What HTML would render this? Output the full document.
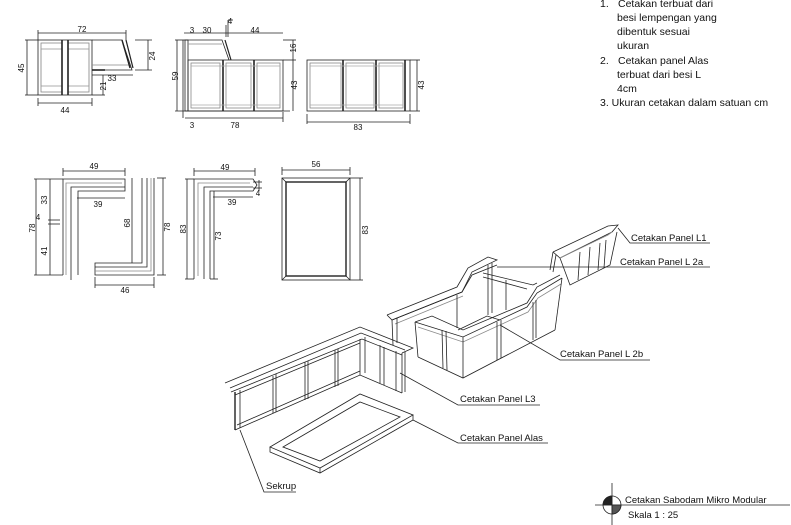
<!DOCTYPE html>
<html><head><meta charset="utf-8"><style>
html,body{margin:0;padding:0;background:#fff;}
svg{display:block;}
text{font-family:"Liberation Sans",sans-serif;fill:#111;}
</style></head><body>
<svg width="791" height="525" viewBox="0 0 791 525" xmlns="http://www.w3.org/2000/svg">
<g fill="none" stroke="#222" stroke-width="0.8">
<!-- View 1 -->
<rect x="38" y="40" width="54" height="55"/>
<rect x="41" y="43" width="21" height="49" stroke="#888"/>
<rect x="68" y="43" width="21" height="49" stroke="#888"/>
<rect x="41" y="49" width="21" height="37" stroke="#999"/>
<rect x="68" y="49" width="21" height="37" stroke="#999"/>
<line x1="62" y1="40" x2="62" y2="95" stroke-width="1.6"/>
<line x1="68" y1="40" x2="68" y2="95" stroke-width="1.6"/>
<polyline points="92,40 122,40 132,70 92,70"/>
<line x1="92" y1="65" x2="130" y2="65" stroke="#888"/>
<line x1="122" y1="40" x2="130" y2="68" stroke-width="1.4"/>
<line x1="126" y1="40" x2="133" y2="68" stroke-width="1.2"/>
<line x1="92" y1="70" x2="105" y2="70" stroke-width="1.6"/>
<line x1="38" y1="33" x2="126" y2="33"/><line x1="38" y1="30" x2="38" y2="40"/><line x1="126" y1="30" x2="126" y2="40"/>
<line x1="27" y1="40" x2="27" y2="95"/><line x1="25" y1="40" x2="38" y2="40"/><line x1="25" y1="95" x2="38" y2="95"/>
<line x1="38" y1="103" x2="92" y2="103"/><line x1="38" y1="98" x2="38" y2="106"/><line x1="92" y1="98" x2="92" y2="106"/>
<line x1="148" y1="40" x2="148" y2="70"/><line x1="135" y1="40" x2="152" y2="40"/><line x1="135" y1="70" x2="152" y2="70"/>
<line x1="92" y1="75" x2="133" y2="75"/><line x1="103" y1="75" x2="103" y2="95"/><line x1="92" y1="95" x2="105" y2="95"/>
<!-- View 2 -->
<rect x="185" y="40" width="3" height="71"/>
<line x1="183" y1="40" x2="183" y2="118"/>
<polyline points="188,40 222,40 229,60"/>
<line x1="188" y1="44" x2="222" y2="44" stroke="#888"/>
<line x1="225" y1="40" x2="231" y2="60" stroke-width="1.2"/>
<rect x="188" y="60" width="95" height="51"/>
<line x1="223" y1="60" x2="223" y2="111" stroke-width="1.6"/>
<line x1="254" y1="60" x2="254" y2="111" stroke-width="1.6"/>
<rect x="191" y="63" width="29" height="45" stroke="#888"/>
<rect x="226" y="63" width="25" height="45" stroke="#888"/>
<rect x="257" y="63" width="23" height="45" stroke="#888"/>
<line x1="191" y1="66" x2="280" y2="66" stroke="#aaa"/><line x1="191" y1="105" x2="280" y2="105" stroke="#aaa"/>
<line x1="184" y1="33" x2="283" y2="33"/><line x1="226" y1="25" x2="226" y2="37"/><line x1="228" y1="20" x2="228" y2="37"/><line x1="228" y1="20" x2="233" y2="20"/>
<line x1="177" y1="40" x2="177" y2="111"/><line x1="175" y1="40" x2="188" y2="40"/><line x1="175" y1="111" x2="290" y2="111"/>
<line x1="293" y1="40" x2="293" y2="111"/><line x1="283" y1="40" x2="296" y2="40"/><line x1="283" y1="60" x2="296" y2="60"/>
<line x1="185" y1="118" x2="283" y2="118"/><line x1="283" y1="112" x2="283" y2="122"/>
<!-- View 3 -->
<rect x="307" y="60" width="103" height="51"/>
<line x1="343" y1="60" x2="343" y2="111" stroke-width="1.6"/>
<line x1="376" y1="60" x2="376" y2="111" stroke-width="1.6"/>
<line x1="405" y1="60" x2="405" y2="111" stroke-width="1.6"/>
<rect x="310" y="63" width="31" height="45" stroke="#888"/>
<rect x="346" y="63" width="28" height="45" stroke="#888"/>
<rect x="379" y="63" width="24" height="45" stroke="#888"/>
<line x1="310" y1="66" x2="403" y2="66" stroke="#aaa"/><line x1="310" y1="105" x2="403" y2="105" stroke="#aaa"/>
<line x1="307" y1="122" x2="410" y2="122"/><line x1="307" y1="114" x2="307" y2="124"/><line x1="410" y1="114" x2="410" y2="124"/>
<line x1="417" y1="60" x2="417" y2="111"/><line x1="410" y1="60" x2="420" y2="60"/><line x1="410" y1="111" x2="420" y2="111"/>
<!-- Row 2 View A -->
<polyline points="63,275 63,179 125,179 125,191 78,191 78,275"/>
<polyline points="66,275 66,183 122,183" stroke="#888"/>
<polyline points="71,280 71,187 125,187" />
<polyline points="154,178 154,275 95,275 95,263 142,263 142,178"/>
<polyline points="151,178 151,271 95,271" stroke="#888"/>
<polyline points="147,178 147,267 95,267"/>
<line x1="63" y1="171" x2="125" y2="171"/><line x1="63" y1="168" x2="63" y2="176"/><line x1="125" y1="168" x2="125" y2="176"/>
<line x1="77" y1="198" x2="125" y2="198"/>
<line x1="36" y1="179" x2="36" y2="275"/><line x1="50" y1="179" x2="50" y2="275"/>
<line x1="34" y1="179" x2="63" y2="179"/><line x1="34" y1="275" x2="63" y2="275"/>
<line x1="48" y1="220" x2="60" y2="220"/><line x1="48" y1="224" x2="60" y2="224"/>
<line x1="132" y1="178" x2="132" y2="263"/><line x1="163" y1="178" x2="163" y2="275"/>
<line x1="157" y1="178" x2="166" y2="178"/><line x1="157" y1="275" x2="166" y2="275"/>
<line x1="95" y1="285" x2="154" y2="285"/><line x1="95" y1="277" x2="95" y2="288"/><line x1="154" y1="277" x2="154" y2="288"/>
<!-- View B -->
<polyline points="194,279 194,179 253,179 257,185 253,191 210,191 210,279 Z"/>
<polyline points="198,276 198,183 250,183" stroke="#888"/>
<polyline points="204,279 204,187 253,187"/>
<line x1="194" y1="171" x2="255" y2="171"/><line x1="194" y1="168" x2="194" y2="176"/><line x1="255" y1="168" x2="255" y2="176"/>
<line x1="253" y1="182" x2="262" y2="182"/><line x1="253" y1="188" x2="262" y2="188"/><line x1="259" y1="180" x2="259" y2="191"/>
<line x1="213" y1="197" x2="253" y2="197"/>
<line x1="187" y1="179" x2="187" y2="279"/><line x1="185" y1="179" x2="194" y2="179"/><line x1="185" y1="279" x2="194" y2="279"/>
<line x1="214" y1="191" x2="214" y2="279"/><line x1="210" y1="279" x2="218" y2="279"/>
<!-- View C -->
<rect x="282" y="178" width="68" height="102"/>
<rect x="286" y="182" width="60" height="94" stroke-width="1.4"/>
<line x1="282" y1="178" x2="286" y2="182"/><line x1="350" y1="178" x2="346" y2="182"/><line x1="282" y1="280" x2="286" y2="276"/><line x1="350" y1="280" x2="346" y2="276"/>
<line x1="282" y1="170" x2="350" y2="170"/><line x1="282" y1="167" x2="282" y2="175"/><line x1="350" y1="167" x2="350" y2="175"/>
<line x1="360" y1="178" x2="360" y2="280"/><line x1="350" y1="178" x2="363" y2="178"/><line x1="350" y1="280" x2="363" y2="280"/>
<!-- Isometric L3 -->
<polyline points="225,383 360,327 413,348 402,353"/>
<polyline points="230,388 361,333 405,350"/>
<polyline points="231,392 362,339 402,355"/>
<polyline points="235,395 360,343"/>
<polyline points="235,430 360,375 402,393"/>
<polyline points="237,425 360,371"/>
<line x1="235" y1="392" x2="235" y2="430" stroke-width="1.4"/>
<line x1="240" y1="390" x2="240" y2="428"/>
<line x1="360" y1="339" x2="360" y2="375"/>
<line x1="365" y1="337" x2="365" y2="373"/>
<line x1="402" y1="353" x2="402" y2="393"/><line x1="396" y1="351" x2="396" y2="391"/><line x1="405" y1="352" x2="405" y2="392"/>
<line x1="273" y1="376" x2="273" y2="413"/><line x1="276" y1="374" x2="276" y2="412"/>
<line x1="305" y1="362" x2="305" y2="400"/><line x1="308" y1="361" x2="308" y2="399"/>
<line x1="335" y1="350" x2="335" y2="387"/><line x1="338" y1="349" x2="338" y2="386"/>
<line x1="380" y1="345" x2="380" y2="383"/><line x1="384" y1="347" x2="384" y2="385"/>
<!-- Alas -->
<polygon points="270,447 360,394 413,415 320,468"/>
<polyline points="270,447 270,452 320,473 413,420 413,415"/>
<polygon points="283,447 360,402 400,417 320,461"/>
<line x1="320" y1="468" x2="320" y2="473"/>
<!-- L2 back wall -->
<polyline points="387,315 457,287 468,268 488,257 497,260 472,272 462,292 392,320 387,315"/>
<polyline points="392,320 462,292 472,275 497,265"/>
<polyline points="395,324 463,296" stroke="#888"/>
<line x1="392" y1="320" x2="393" y2="345"/><line x1="397" y1="318" x2="397" y2="343"/>
<line x1="457" y1="295" x2="457" y2="328"/><line x1="488" y1="265" x2="488" y2="315"/>
<line x1="492" y1="263" x2="492" y2="313"/>
<!-- inner right rail -->
<polyline points="483,273 533,285 537,283"/>
<polyline points="483,277 527,289"/>
<line x1="506" y1="280" x2="506" y2="310"/>
<!-- front box -->
<polyline points="415,322 432,316 463,330 527,303 537,287 560,275"/>
<polyline points="415,322 463,337 527,307 537,293 562,278"/>
<polyline points="418,327 463,342 528,312 538,298 561,284" stroke="#888"/>
<polyline points="418,357 463,378 555,330"/>
<line x1="415" y1="322" x2="418" y2="357"/><line x1="463" y1="337" x2="463" y2="378"/><line x1="562" y1="278" x2="555" y2="330"/>
<line x1="442" y1="330" x2="443" y2="368"/><line x1="446" y1="331" x2="447" y2="370"/>
<line x1="497" y1="322" x2="497" y2="360"/><line x1="501" y1="320" x2="501" y2="358"/>
<line x1="533" y1="302" x2="533" y2="340"/><line x1="536" y1="300" x2="536" y2="338"/>
<polyline points="458,330 487,316 500,320"/>
<!-- L1 -->
<polyline points="553,252 608,226 618,225 612,232 560,258 553,252"/>
<polyline points="560,258 570,285 610,265 617,232"/>
<line x1="553" y1="252" x2="550" y2="270"/><line x1="556" y1="255" x2="553" y2="272"/>
<line x1="580" y1="252" x2="578" y2="280"/><line x1="590" y1="247" x2="588" y2="275"/><line x1="600" y1="243" x2="598" y2="270"/><line x1="606" y1="240" x2="604" y2="268"/>
<polyline points="560,258 608,235 612,232" stroke="#888"/>
<!-- leaders -->
<polyline points="618,228 630,243 710,243"/>
<line x1="497" y1="267" x2="710" y2="267"/>
<polyline points="500,325 560,360 650,360"/>
<polyline points="400,373 458,405 540,405"/>
<polyline points="413,420 458,443 548,443"/>
<polyline points="240,430 264,492 296,492"/>
<!-- Title symbol -->
<line x1="612" y1="483" x2="612" y2="525"/>
<line x1="595" y1="505" x2="790" y2="505"/>
<circle cx="612" cy="505" r="9"/>
<path d="M612,496 A9,9 0 0,0 603,505 L612,505 Z" fill="#222"/>
<path d="M612,505 L621,505 A9,9 0 0,1 612,514 Z" fill="#555"/>
</g>
<g font-size="8" text-anchor="middle">
<text x="82" y="32">72</text><text x="65" y="113">44</text>
<text x="24" y="68" transform="rotate(-90 24 68)">45</text>
<text x="155" y="56" transform="rotate(-90 155 56)">24</text>
<text x="112" y="81">33</text><text x="106" y="86" transform="rotate(-90 106 86)">21</text>
<text x="192" y="33">3</text><text x="207" y="33">30</text><text x="230" y="24">4</text><text x="255" y="33">44</text>
<text x="296" y="48" transform="rotate(-90 296 48)">16</text>
<text x="178" y="76" transform="rotate(-90 178 76)">59</text>
<text x="297" y="85" transform="rotate(-90 297 85)">43</text>
<text x="192" y="128">3</text><text x="235" y="128">78</text>
<text x="358" y="130">83</text>
<text x="424" y="85" transform="rotate(-90 424 85)">43</text>
<text x="94" y="169">49</text><text x="98" y="207">39</text><text x="125" y="293">46</text>
<text x="47" y="200" transform="rotate(-90 47 200)">33</text>
<text x="47" y="251" transform="rotate(-90 47 251)">41</text>
<text x="35" y="228" transform="rotate(-90 35 228)">78</text>
<text x="38" y="220">4</text>
<text x="130" y="223" transform="rotate(-90 130 223)">68</text>
<text x="170" y="227" transform="rotate(-90 170 227)">78</text>
<text x="225" y="170">49</text><text x="232" y="205">39</text><text x="258" y="196">4</text>
<text x="186" y="229" transform="rotate(-90 186 229)">83</text>
<text x="221" y="236" transform="rotate(-90 221 236)">73</text>
<text x="316" y="167">56</text>
<text x="368" y="230" transform="rotate(-90 368 230)">83</text>
</g>
<g font-size="9.5">
<text x="631" y="241">Cetakan Panel L1</text>
<text x="620" y="265">Cetakan Panel L 2a</text>
<text x="560" y="357">Cetakan Panel L 2b</text>
<text x="460" y="402">Cetakan Panel L3</text>
<text x="460" y="441">Cetakan Panel Alas</text>
<text x="266" y="489">Sekrup</text>
<text x="625" y="503">Cetakan Sabodam Mikro Modular</text>
<text x="628" y="518">Skala 1 : 25</text>
</g>
<g font-size="10.5">
<text x="600" y="7">1.</text><text x="618" y="7">Cetakan terbuat dari</text>
<text x="617" y="21">besi lempengan yang</text>
<text x="617" y="35">dibentuk sesuai</text>
<text x="617" y="49">ukuran</text>
<text x="600" y="64">2.</text><text x="618" y="64">Cetakan panel Alas</text>
<text x="617" y="78">terbuat dari besi L</text>
<text x="617" y="92">4cm</text>
<text x="600" y="106">3. Ukuran cetakan dalam satuan cm</text>
</g>
</svg>
</body></html>
